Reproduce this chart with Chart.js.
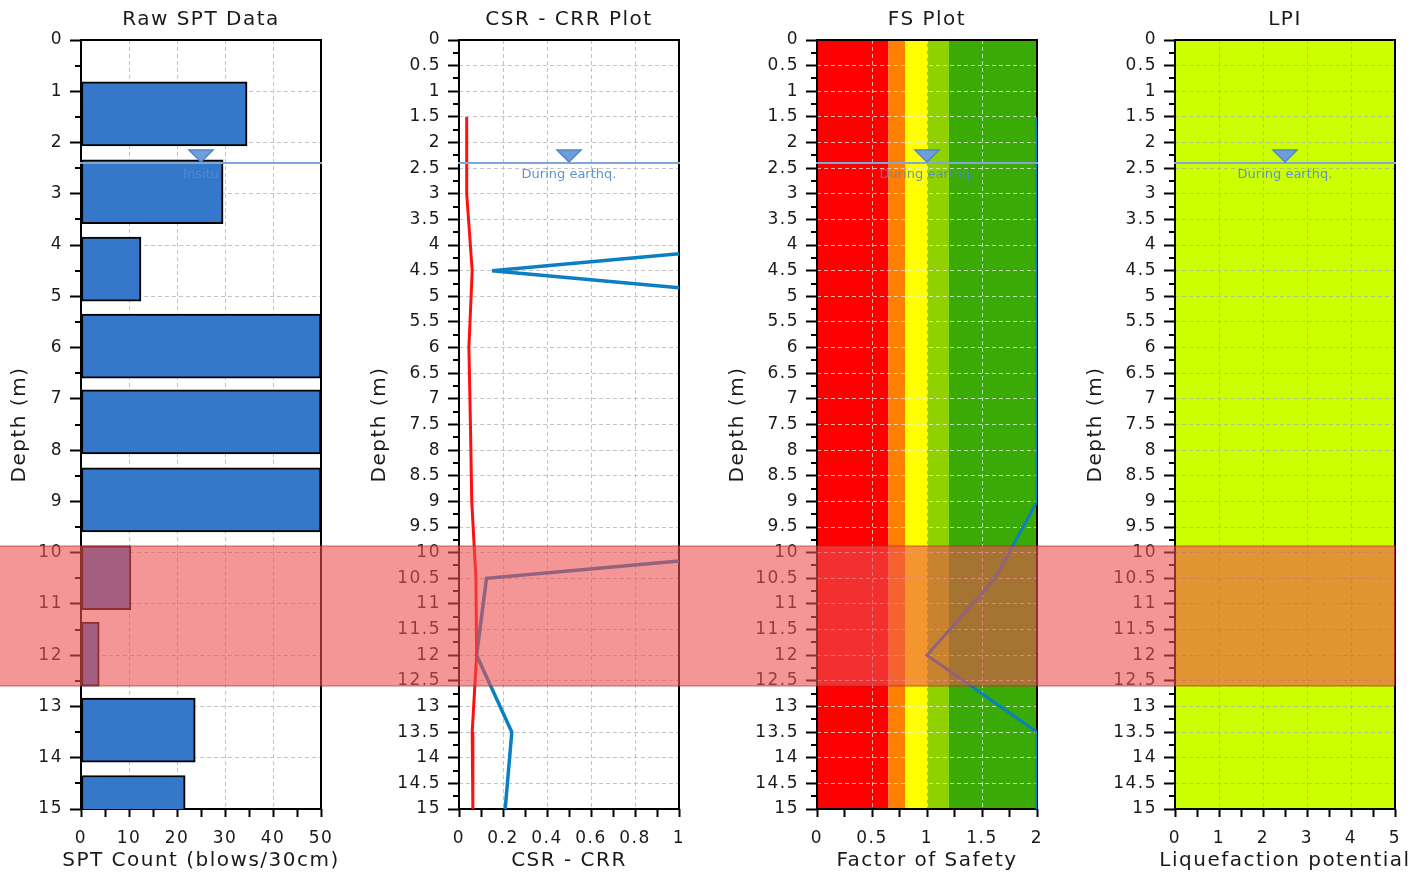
<!DOCTYPE html>
<html>
<head>
<meta charset="utf-8">
<script src="https://cdn.jsdelivr.net/npm/chart.js@4.4.1/dist/chart.umd.min.js"></script>
<style>
body{margin:0;background:#fff;}
#wrap{display:flex;width:1421px;height:875px;}
canvas{display:block;}
</style>
</head>
<body>
<div id="wrap">
<canvas id="c1" width="360" height="875"></canvas>
<canvas id="c2" width="358" height="875"></canvas>
<canvas id="c3" width="358" height="875"></canvas>
<canvas id="c4" width="345" height="875"></canvas>
</div>
<script>
// raw SPT: sample depth (m) and blow count
var sptDepth = [1.44, 2.96, 4.47, 5.97, 7.45, 8.97, 10.49, 11.98, 13.46, 14.97];
var sptCount = [34.6, 29.6, 12.5, 50, 50, 50, 10.4, 3.8, 23.8, 21.7];

// calculation depths and results
var calcDepth = [1.5, 3, 4.5, 6, 7.5, 9, 10.5, 12, 13.5, 15];
var csr = [0.035, 0.035, 0.06, 0.045, 0.052, 0.058, 0.077, 0.08, 0.06, 0.063];
var crr = [4, 4, 0.15, 4, 4, 4, 0.125, 0.08, 0.24, 0.21];
var fs  = [2, 2, 2, 2, 2, 2, 1.62, 1.0, 2, 2];

// FS colour zones
var fsEdges  = [0, 0.65, 0.8, 1.0, 1.2, 2];
var fsColors = ['#ff0000', '#ff8000', '#ffff00', '#90d200', '#3aaa06'];

// LPI zone
var lpiEdges  = [0, 5];
var lpiColors = ['#ccff00'];

var waterDepth = 2.4;
var waterLabels = ['Insitu', 'During earthq.', 'During earthq.', 'During earthq.'];
var liqZone = [9.87, 12.6];

Chart.defaults.font.family = "'DejaVu Sans', sans-serif";
Chart.defaults.color = '#1a1a1a';

function near(v, s){ return Math.abs(v / s - Math.round(v / s)) < 1e-6; }
function fmt(v){ return String(Math.round(v * 100) / 100); }
var clear = 'rgba(0,0,0,0)';

function makeScales(p){
  return {
    x: {
      type: 'linear', min: p.xMin, max: p.xMax, offset: false,
      afterFit: function(s){ s.height = 66; },
      border: {display: false, dash: [4, 3]},
      grid: {
        offset: false, lineWidth: 1, tickLength: 8, tickWidth: 2, tickColor: '#000', tickBorderDash: [],
        color: function(c){
          if (!c.tick) return clear;
          var v = c.tick.value;
          return (near(v, p.xGrid) && v > p.xMin && v < p.xMax) ? p.gridColor : clear;
        }
      },
      ticks: {stepSize: p.xStep, autoSkip: false, maxRotation: 0, padding: 11, font: {size: 17}, color: '#1a1a1a',
        callback: function(v){ return near(v, p.xLab) ? fmt(v) : ''; }},
      title: {display: false}
    },
    y: {
      type: 'linear', reverse: true, min: 0, max: 15, offset: false,
      afterFit: function(s){ s.width = p.yWidth; },
      border: {display: false, dash: [4, 3]},
      grid: {
        offset: false, lineWidth: 1, tickLength: 11, tickWidth: 2, tickBorderDash: [],
        tickColor: function(c){ return (c.tick && near(c.tick.value, p.yLab)) ? '#000' : clear; },
        color: function(c){
          if (!c.tick) return clear;
          var v = c.tick.value;
          return (near(v, p.yGrid) && v > 0 && v < 15) ? p.gridColor : clear;
        }
      },
      ticks: {stepSize: p.yStep, autoSkip: false, padding: 7, font: {size: 17}, color: '#1a1a1a',
        callback: function(v){ return near(v, p.yLab) ? fmt(v) : ''; }},
      title: {display: true, text: 'Depth (m)', font: {size: 20}, color: '#1a1a1a', padding: {top: 8, bottom: 0}}
    }
  };
}

function spacing(chart){ chart.ctx.letterSpacing = '1.5px'; }

function decor(p){
  return {
    id: 'decor',
    beforeLayout: spacing,
    beforeDraw: function(chart){
      spacing(chart);
      if (!p.zones) return;
      var ctx = chart.ctx, a = chart.chartArea, x = chart.scales.x;
      ctx.save();
      for (var i = 0; i < p.zones.colors.length; i++) {
        var x0 = x.getPixelForValue(p.zones.edges[i]);
        var x1 = x.getPixelForValue(p.zones.edges[i + 1]);
        ctx.fillStyle = p.zones.colors[i];
        ctx.fillRect(x0, a.top, x1 - x0, a.bottom - a.top);
      }
      ctx.restore();
    },
    beforeDatasetsDraw: function(chart){
      var ctx = chart.ctx, a = chart.chartArea, y = chart.scales.y;
      ctx.save();
      // minor depth ticks
      ctx.strokeStyle = '#000';
      ctx.lineWidth = 2;
      y.ticks.forEach(function(t){
        if (near(t.value, p.yLab)) return;
        var py = Math.round(y.getPixelForValue(t.value));
        ctx.beginPath();
        ctx.moveTo(a.left - 6, py);
        ctx.lineTo(a.left, py);
        ctx.stroke();
      });
      // frame
      ctx.strokeRect(a.left, a.top, a.right - a.left, a.bottom - a.top);
      // x axis title (drawn here so it is not squeezed to the plot width)
      ctx.font = "20px 'DejaVu Sans', sans-serif";
      ctx.fillStyle = '#1a1a1a';
      ctx.textAlign = 'center';
      ctx.textBaseline = 'middle';
      ctx.fillText(p.xTitle, (a.left + a.right) / 2, 861);
      ctx.restore();
    },
    afterDatasetsDraw: function(chart){
      var ctx = chart.ctx, a = chart.chartArea, y = chart.scales.y;
      var wy = y.getPixelForValue(waterDepth);
      var cx = (a.left + a.right) / 2;
      ctx.save();
      ctx.strokeStyle = '#82a6d8';
      ctx.lineWidth = 2;
      ctx.beginPath();
      ctx.moveTo(a.left - 1, wy);
      ctx.lineTo(a.right + 1, wy);
      ctx.stroke();
      ctx.beginPath();
      ctx.moveTo(cx - 12, wy - 13);
      ctx.lineTo(cx + 12, wy - 13);
      ctx.lineTo(cx, wy - 1);
      ctx.closePath();
      ctx.fillStyle = '#6f9edb';
      ctx.fill();
      ctx.lineWidth = 1.5;
      ctx.strokeStyle = '#4e86cc';
      ctx.stroke();
      ctx.letterSpacing = '0px';
      ctx.font = "13px 'DejaVu Sans', sans-serif";
      ctx.textAlign = 'center';
      ctx.textBaseline = 'middle';
      ctx.fillStyle = p.wtColor;
      ctx.fillText(p.wtLabel, cx, wy + 12);
      ctx.restore();
    },
    afterDraw: function(chart){
      var ctx = chart.ctx, a = chart.chartArea, y = chart.scales.y;
      var t = y.getPixelForValue(liqZone[0]), b = y.getPixelForValue(liqZone[1]);
      var right = p.last ? a.right : chart.width;
      ctx.save();
      ctx.fillStyle = 'rgba(237,79,80,0.6)';
      ctx.fillRect(0, t, right, b - t);
      ctx.strokeStyle = 'rgba(170,40,40,0.45)';
      ctx.lineWidth = 1.5;
      ctx.beginPath();
      ctx.moveTo(0, t); ctx.lineTo(right, t);
      ctx.moveTo(0, b); ctx.lineTo(right, b);
      if (p.last) { ctx.moveTo(right, t); ctx.lineTo(right, b); }
      ctx.stroke();
      ctx.restore();
    }
  };
}

function baseOpts(p){
  return {
    responsive: false,
    animation: false,
    events: [],
    indexAxis: 'y',
    layout: {padding: {left: 0, right: p.padRight, top: 0, bottom: 0}},
    plugins: {
      legend: {display: false},
      tooltip: {enabled: false},
      title: {display: true, text: p.title, fullSize: false, color: '#1a1a1a',
        font: {size: 20, weight: 'normal'}, padding: {top: 8, bottom: 8}}
    },
    scales: makeScales(p)
  };
}

var grey = 'rgba(190,190,190,0.9)';

// panel 1 - raw SPT data
var p1 = {title: 'Raw SPT Data', xTitle: 'SPT Count (blows/30cm)', xMin: 0, xMax: 50, xStep: 5, xLab: 10, xGrid: 10,
  yStep: 0.5, yLab: 1, yGrid: 1, yWidth: 81, padRight: 39, gridColor: grey,
  wtLabel: waterLabels[0], wtColor: 'rgba(110,160,225,0.45)'};
new Chart(document.getElementById('c1'), {
  type: 'bar',
  data: {datasets: [{
    data: sptDepth.map(function(d, i){ return {x: sptCount[i], y: d}; }),
    backgroundColor: '#3577c8', borderColor: '#000', borderWidth: 2, borderSkipped: false,
    barThickness: 64
  }]},
  options: baseOpts(p1),
  plugins: [decor(p1)]
});

// panel 2 - CSR / CRR
var p2 = {title: 'CSR - CRR Plot', xTitle: 'CSR - CRR', xMin: 0, xMax: 1, xStep: 0.1, xLab: 0.2, xGrid: 0.2,
  yStep: 0.25, yLab: 0.5, yGrid: 0.5, yWidth: 99, padRight: 39, gridColor: grey,
  wtLabel: waterLabels[1], wtColor: '#5b93d5'};
new Chart(document.getElementById('c2'), {
  type: 'line',
  data: {datasets: [
    {data: calcDepth.map(function(d, i){ return {x: csr[i], y: d}; }),
      borderColor: '#ff1010', borderWidth: 3, pointRadius: 0, tension: 0},
    {data: calcDepth.map(function(d, i){ return {x: crr[i], y: d}; }),
      borderColor: '#0a7fc4', borderWidth: 3.5, pointRadius: 0, tension: 0}
  ]},
  options: baseOpts(p2),
  plugins: [decor(p2)]
});

// panel 3 - factor of safety
var p3 = {title: 'FS Plot', xTitle: 'Factor of Safety', xMin: 0, xMax: 2, xStep: 0.25, xLab: 0.5, xGrid: 0.5,
  yStep: 0.25, yLab: 0.5, yGrid: 0.5, yWidth: 99, padRight: 39, gridColor: 'rgba(235,235,235,0.75)',
  zones: {edges: fsEdges, colors: fsColors},
  wtLabel: waterLabels[2], wtColor: 'rgba(80,135,205,0.85)'};
new Chart(document.getElementById('c3'), {
  type: 'line',
  data: {datasets: [
    {data: calcDepth.map(function(d, i){ return {x: fs[i], y: d}; }),
      borderColor: '#0a7fc4', borderWidth: 3, pointRadius: 0, tension: 0}
  ]},
  options: baseOpts(p3),
  plugins: [decor(p3)]
});

// panel 4 - LPI
var p4 = {title: 'LPI', xTitle: 'Liquefaction potential', xMin: 0, xMax: 5, xStep: 0.5, xLab: 1, xGrid: 1,
  yStep: 0.25, yLab: 0.5, yGrid: 0.5, yWidth: 99, padRight: 26, gridColor: 'rgba(170,170,170,0.7)',
  zones: {edges: lpiEdges, colors: lpiColors}, last: true,
  wtLabel: waterLabels[3], wtColor: '#5b93d5'};
new Chart(document.getElementById('c4'), {
  type: 'line',
  data: {datasets: []},
  options: baseOpts(p4),
  plugins: [decor(p4)]
});
</script>
</body>
</html>
